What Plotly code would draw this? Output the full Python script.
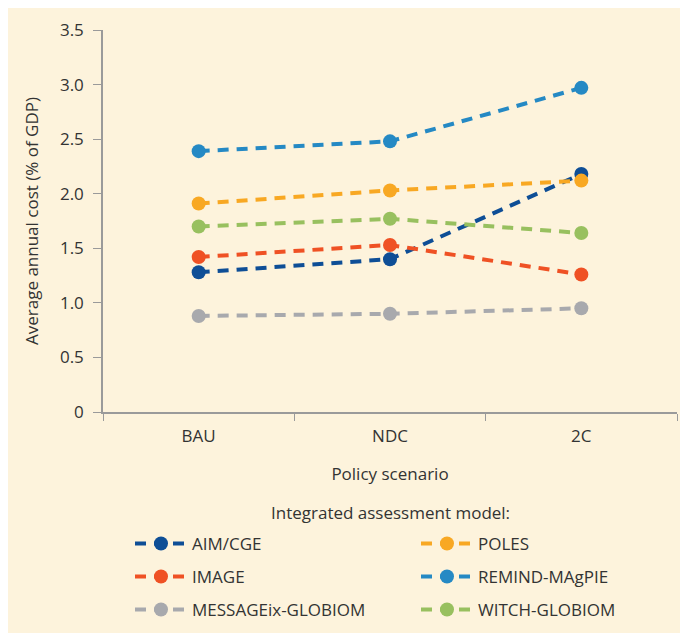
import plotly.graph_objects as go

scenarios = ["BAU", "NDC", "2C"]
models = ["AIM/CGE", "POLES", "IMAGE", "REMIND-MAgPIE", "MESSAGEix-GLOBIOM", "WITCH-GLOBIOM"]
aim_cge = [1.28, 1.40, 2.18]
poles = [1.91, 2.03, 2.12]
image = [1.42, 1.53, 1.26]
remind = [2.39, 2.48, 2.97]
message = [0.88, 0.90, 0.95]
witch = [1.70, 1.77, 1.64]
values = [aim_cge, poles, image, remind, message, witch]
colors = ["#0E4E96", "#F8A823", "#EF5124", "#2589C4", "#A8A9AD", "#98C05F"]
legend_rows = ["legend", "legend", "legend2", "legend2", "legend3", "legend3"]

y_tickvals = [0, 0.5, 1.0, 1.5, 2.0, 2.5, 3.0, 3.5]
y_ticktext = ["0", "0.5", "1.0", "1.5", "2.0", "2.5", "3.0", "3.5"]

# the page body adds an 8px margin, so the figure is drawn 8px smaller
W, H = 680, 625
L, R, T, B = 95, 11, 22, 221
ph = H - T - B

bg = "#FDF3DC"
font = "Open Sans"
txt = "#333333"
fs = 17

fig = go.Figure()
for name, vals, col, lg in zip(models, values, colors, legend_rows):
    fig.add_trace(go.Scatter(
        x=scenarios, y=vals, name=name, mode="lines+markers",
        line=dict(color=col, width=4, dash="11px,8px"),
        marker=dict(color=col, size=14),
        legend=lg,
    ))

def leg(y):
    return dict(
        orientation="h", xref="container", yref="container",
        x=122 / W, xanchor="left", y=1 - y / H, yanchor="top",
        entrywidth=219, itemwidth=52, bgcolor="rgba(0,0,0,0)",
        font=dict(size=fs, color=txt),
    )

fig.add_annotation(
    text="Integrated assessment model:", xref="paper", yref="paper",
    x=0.5, y=(H - B - 504) / ph, xanchor="center", yanchor="middle",
    showarrow=False, font=dict(size=fs, color=txt),
)

fig.update_layout(
    width=W, height=H,
    paper_bgcolor=bg, plot_bgcolor=bg,
    margin=dict(l=L, r=R, t=T, b=B),
    font=dict(family=font, size=fs, color=txt),
    xaxis=dict(
        type="category", range=[-0.5, 2.5], showgrid=False, zeroline=False,
        showline=True, linecolor="#9A9A9A", linewidth=1.5, automargin=False,
        ticks="outside", tickson="boundaries", ticklen=7, tickcolor="#9A9A9A",
        ticklabelstandoff=8,
        title=dict(text="Policy scenario", standoff=22, font=dict(size=fs, color=txt)),
        tickfont=dict(size=fs, color=txt),
    ),
    yaxis=dict(
        range=[0, 3.5], tickvals=y_tickvals, ticktext=y_ticktext,
        showgrid=False, zeroline=False, automargin=False,
        showline=True, linecolor="#9A9A9A", linewidth=1.5,
        ticks="outside", ticklen=8, tickcolor="#9A9A9A",
        ticklabelstandoff=6,
        title=dict(text="Average annual cost (% of GDP)", standoff=17, font=dict(size=fs, color=txt)),
        tickfont=dict(size=fs, color=txt),
    ),
    legend=leg(518),
    legend2=leg(551),
    legend3=leg(584),
)

fig.write_html("out.html")
